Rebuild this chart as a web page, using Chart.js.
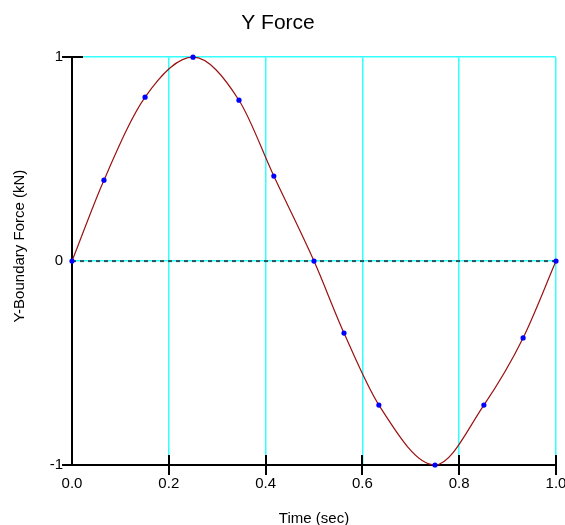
<!DOCTYPE html>
<html>
<head>
<meta charset="utf-8">
<script src="https://cdn.jsdelivr.net/npm/chart.js@4"></script>
<style>
html,body{margin:0;padding:0;background:#fff;overflow:hidden;}
#wrap{width:565px;height:525px;}
</style>
</head>
<body>
<div id="wrap"><canvas id="c" width="565" height="525"></canvas></div>
<script>
const chartTitle = "Y Force";
const xTitle = "Time (sec)";
const yTitle = "Y-Boundary Force (kN)";
const times = [0, 0.066, 0.151, 0.25, 0.345, 0.417, 0.5, 0.562, 0.634, 0.75, 0.851, 0.932, 1.0];
const force = [0, 0.397, 0.804, 1.0, 0.789, 0.417, 0, -0.353, -0.706, -1.0, -0.706, -0.377, 0];
const xTicks = [0.0, 0.2, 0.4, 0.6, 0.8, 1.0];
const yTicks = [-1, 0, 1];
const xMarkTicks = [0.2, 0.4, 0.6, 0.8, 1.0];
const yMarkTicks = [-1, 1];
const zeroLine = [0, 0];
const zeroLineX = [0, 1];

Chart.defaults.font.family = '"Liberation Sans", Arial, sans-serif';
Chart.defaults.color = '#000';

const tickMarks = {
  id: 'tickMarks',
  afterDraw(chart) {
    const ctx = chart.ctx, xs = chart.scales.x, ys = chart.scales.y;
    ctx.save();
    ctx.strokeStyle = '#000';
    ctx.lineWidth = 2;
    ctx.beginPath();
    xMarkTicks.forEach(v => {
      const px = Math.round(xs.getPixelForValue(v));
      ctx.moveTo(px, ys.bottom - 10);
      ctx.lineTo(px, ys.bottom + 10);
    });
    yMarkTicks.forEach(v => {
      const py = Math.round(ys.getPixelForValue(v));
      ctx.moveTo(xs.left - 10, py);
      ctx.lineTo(xs.left + 11, py);
    });
    ctx.stroke();
    // y-axis title, placed as in the reference (slightly above centre)
    ctx.fillStyle = '#000';
    ctx.font = '15px "Liberation Sans", Arial, sans-serif';
    ctx.textAlign = 'center';
    ctx.textBaseline = 'middle';
    ctx.translate(20, (ys.top + ys.bottom) / 2 - 15);
    ctx.rotate(-Math.PI / 2);
    ctx.fillText(yTitle, 0, 0);
    ctx.restore();
  }
};

new Chart(document.getElementById('c'), {
  type: 'line',
  data: {
    datasets: [
      {
        data: times.map((t, i) => ({x: t, y: force[i]})),
        borderColor: '#9a1010',
        borderWidth: 1.2,
        cubicInterpolationMode: 'monotone',
        pointRadius: 2.6,
        pointBackgroundColor: '#0000ff',
        pointBorderWidth: 0,
        clip: false
      },
      {
        data: zeroLineX.map((t, i) => ({x: t, y: zeroLine[i]})),
        borderColor: '#2b4f55',
        borderWidth: 2,
        borderDash: [4, 4],
        pointRadius: 0,
        clip: false
      }
    ]
  },
  options: {
    responsive: false,
    animation: false,
    layout: {padding: {left: 0, right: 9, top: 0, bottom: 0}},
    plugins: {
      legend: {display: false},
      tooltip: {enabled: false},
      title: {
        display: true,
        text: chartTitle,
        color: '#000',
        font: {size: 21, weight: 'normal'},
        padding: {top: 11, bottom: 21}
      }
    },
    scales: {
      x: {
        type: 'linear',
        min: 0, max: 1,
        afterBuildTicks: s => { s.ticks = xTicks.map(v => ({value: v})); },
        afterFit: s => { s.height = 60; s.paddingRight = 0; },
        ticks: {
          callback: v => Number(v).toFixed(1),
          font: {size: 15},
          padding: 10,
          maxRotation: 0,
          autoSkip: false
        },
        grid: {color: '#3ff', lineWidth: 1.5, drawTicks: false},
        border: {display: true, color: '#000', width: 2},
        title: {display: true, text: xTitle, font: {size: 15}, padding: {top: 0, bottom: -3}}
      },
      y: {
        type: 'linear',
        min: -1, max: 1,
        afterBuildTicks: s => { s.ticks = yTicks.map(v => ({value: v})); },
        afterFit: s => { s.width = 72; },
        ticks: {font: {size: 15}, padding: 9},
        grid: {
          color: c => (c.tick && c.tick.value === -1) ? 'rgba(0,0,0,0)' : '#3ff',
          lineWidth: 1.5,
          drawTicks: false
        },
        border: {display: true, color: '#000', width: 2},
        title: {display: false, text: yTitle}
      }
    }
  },
  plugins: [tickMarks]
});
</script>
</body>
</html>
